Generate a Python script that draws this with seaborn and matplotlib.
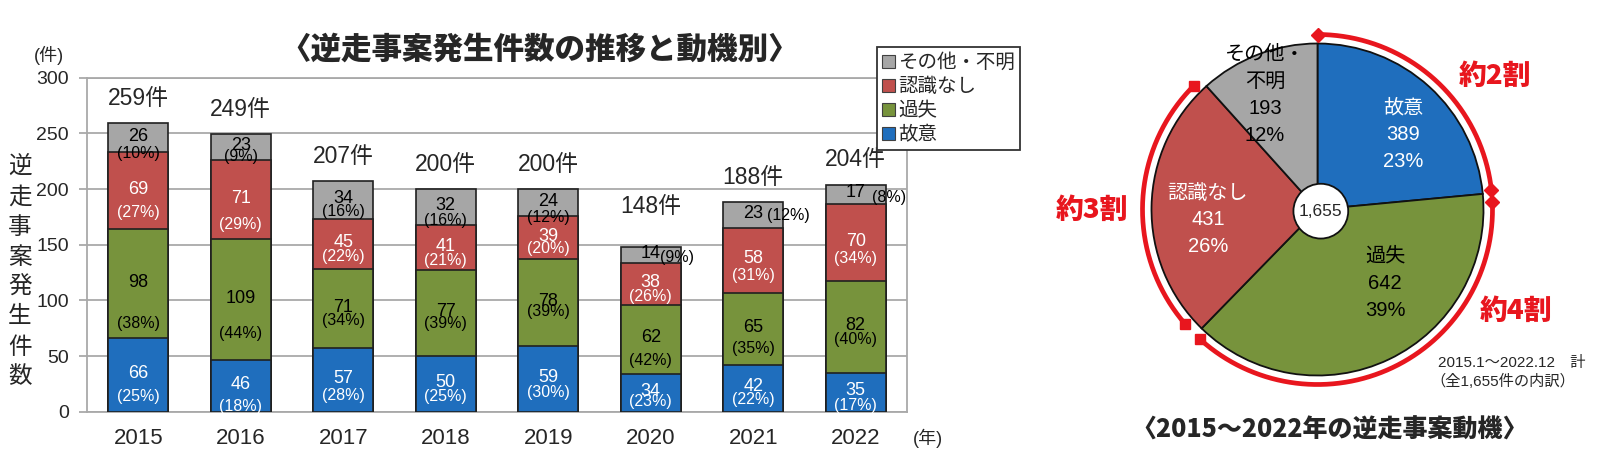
import numpy as np
import matplotlib
matplotlib.use("Agg")
import matplotlib.pyplot as plt
import seaborn as sns
from matplotlib import font_manager
from matplotlib.patches import Patch, Circle
from matplotlib.font_manager import FontProperties

# ---------------- data ----------------
years = ["2015", "2016", "2017", "2018", "2019", "2020", "2021", "2022"]
intentional = [66, 46, 57, 50, 59, 34, 42, 35]          # 故意
negligence = [98, 109, 71, 77, 78, 62, 65, 82]          # 過失
unaware = [69, 71, 45, 41, 39, 38, 58, 70]              # 認識なし
other = [26, 23, 34, 32, 24, 14, 23, 17]                # その他・不明
pct_intentional = [25, 18, 28, 25, 30, 23, 22, 17]
pct_negligence = [38, 44, 34, 39, 39, 42, 35, 40]
pct_unaware = [27, 29, 22, 21, 20, 26, 31, 34]
pct_other = [10, 9, 16, 16, 12, 9, 12, 8]
totals = [259, 249, 207, 200, 200, 148, 188, 204]
legend_labels = ["その他・不明", "認識なし", "過失", "故意"]

pie_names = [["故意"], ["過失"], ["認識なし"], ["その他・", "不明"]]
pie_values = [389, 642, 431, 193]
pie_pcts = [23, 39, 26, 12]
pie_total_label = "1,655"
arc_labels = ["約2割", "約4割", "約3割"]

title_left = "〈逆走事案発生件数の推移と動機別〉"
title_right = "〈2015～2022年の逆走事案動機〉"
note_lines = ["2015.1～2022.12　計", "（全1,655件の内訳）"]
ylabel_chars = "逆走事案発生件数"

# ---------------- styles ----------------
BLUE = "#1F6EBD"
GREEN = "#77933C"
RED = "#C0504D"
GREY = "#A6A6A6"
EDGE = "#202020"
ARC_RED = "#E8161E"
GRID = "#A9A9A9"

sns.set_style("white")
CJK = "Noto Sans CJK JP"
LAT = "Liberation Sans"
plt.rcParams["font.family"] = [LAT, CJK, "DejaVu Sans"]
names = {f.name for f in font_manager.fontManager.ttflist}
NARROW = "Liberation Sans Narrow" if "Liberation Sans Narrow" in names else LAT
pct_size = 13 if NARROW != LAT else 11.5

W, H = 1600, 476
fig = plt.figure(figsize=(W / 100, H / 100), dpi=100)


def fx(x):
    return x / W


def fy(y):
    return 1 - y / H


PT = 0.72  # px -> pt

# ---------------- bar chart ----------------
ax = fig.add_axes([fx(87), fy(411.7), fx(907) - fx(87), fy(77.7) - fy(411.7)])
layers = [
    (intentional, pct_intentional, BLUE, "white"),
    (negligence, pct_negligence, GREEN, "black"),
    (unaware, pct_unaware, RED, "white"),
    (other, pct_other, GREY, "black"),
]
cum = np.cumsum(np.array([l[0] for l in layers]), axis=0)
for li in range(3, -1, -1):
    sns.barplot(x=years, y=cum[li], order=years, color=layers[li][2], saturation=1,
                width=0.59, edgecolor=EDGE, linewidth=1.2, errorbar=None, ax=ax, zorder=3)

ax.set_xlim(-0.5, 7.5)
ax.set_ylim(0, 300)
ax.set_yticks(range(0, 301, 50))
ax.set_xlabel("")
ax.set_ylabel("")
ax.yaxis.grid(True, color=GRID, linewidth=1.3)
ax.xaxis.grid(False)
ax.set_axisbelow(True)
for s in ax.spines.values():
    s.set_color(GRID)
    s.set_linewidth(1.3)
ax.set_xticks(np.arange(-0.5, 8, 1), minor=True)
ax.tick_params(axis="x", which="major", length=0, pad=12, labelsize=16)
ax.tick_params(axis="x", which="minor", length=7, width=1.3, color=GRID, direction="out")
ax.tick_params(axis="y", which="major", length=6, width=1.3, color=GRID, direction="out",
               pad=7, labelsize=14, left=True)

# per-label layout (pixel gaps between value and percentage lines)
pct_gap = {
    (0, 0): 23, (0, 1): 41, (0, 2): 23, (0, 3): 17,
    (1, 0): 22, (1, 1): 35, (1, 2): 26, (1, 3): 11,
    (2, 0): 17, (2, 1): 13, (2, 2): 14, (2, 3): 13,
    (3, 0): 14, (3, 1): 12, (3, 2): 14, (3, 3): 15,
    (4, 0): 15, (4, 1): 10, (4, 2): 12, (4, 3): 16,
    (5, 0): 10, (5, 1): 23, (5, 2): 14,
    (6, 0): 13, (6, 1): 21, (6, 2): 17,
    (7, 0): 15, (7, 1): 14, (7, 2): 17,
}
# single-line labels: (pct left offset px, pct downward offset px)
inline = {(5, 3): (9, 4), (6, 3): (14, 2), (7, 3): (16, 5)}

for li, (vals, pcts, col, tcol) in enumerate(layers):
    for i in range(len(years)):
        base = cum[li][i] - vals[i]
        c = base + vals[i] / 2
        ax.annotate(str(vals[i]), (i, c), xytext=(0, 1), textcoords="offset points",
                    ha="center", va="center", fontsize=13, color=tcol, family=[LAT], zorder=6)
        if (i, li) in inline:
            dx, dy = inline[(i, li)]
            ax.annotate(f"({pcts[i]}%)", (i, c), xytext=(dx * PT, -dy * PT + 1),
                        textcoords="offset points", ha="left", va="center",
                        fontsize=pct_size, color=tcol, family=[NARROW], zorder=6,
                        annotation_clip=False)
        else:
            g = pct_gap.get((i, li), 14)
            ax.annotate(f"({pcts[i]}%)", (i, c), xytext=(0, -g * PT + 1),
                        textcoords="offset points", ha="center", va="center",
                        fontsize=pct_size, color=tcol, family=[NARROW], zorder=6,
                        annotation_clip=False)

total_offset = [25, 25, 25, 25, 25, 40, 25, 25]
for i, t in enumerate(totals):
    ax.annotate(f"{t}件", (i, t), xytext=(0, total_offset[i] * PT), textcoords="offset points",
                ha="center", va="center", fontsize=16.5, family=[LAT, CJK], zorder=6)

handles = [Patch(facecolor=c, edgecolor="#404040", linewidth=0.8)
           for c in [GREY, RED, GREEN, BLUE]]
leg = fig.legend(handles, legend_labels, loc="upper left",
                 bbox_to_anchor=(fx(877), fy(47)), bbox_transform=fig.transFigure,
                 prop=FontProperties(family=[CJK], size=14), frameon=True, fancybox=False,
                 borderpad=0.25, labelspacing=0.16, handlelength=0.65, handleheight=0.65,
                 handletextpad=0.2, borderaxespad=0)
leg.get_frame().set_edgecolor("#333333")
leg.get_frame().set_linewidth(1.3)
leg.get_frame().set_alpha(1)

fig.text(fx(540), fy(49), title_left, ha="center", va="center", fontsize=22,
         fontweight=900, family=[CJK])
fig.text(fx(49), fy(55), "(件)", ha="center", va="center", fontsize=13, family=[LAT, CJK])
fig.text(fx(928), fy(438), "(年)", ha="center", va="center", fontsize=13, family=[LAT, CJK])
for k, ch in enumerate(ylabel_chars):
    fig.text(fx(20), fy(167 + 30 * k), ch, ha="center", va="center", fontsize=17, family=[CJK])

# ---------------- pie chart ----------------
R_PX = 166.0
cxp, cyp = 1317.5, 209.5
xl, yl = 1.3, 1.2
ax2 = fig.add_axes([fx(cxp - xl * R_PX), fy(cyp + yl * R_PX), 2 * xl * R_PX / W, 2 * yl * R_PX / H])
pie_colors = [BLUE, GREEN, RED, GREY]
ax2.pie(pie_values, colors=pie_colors, startangle=90, counterclock=False, radius=1,
        wedgeprops=dict(edgecolor="#111111", linewidth=1.3))
ax2.set_aspect("auto")
ax2.set_xlim(-xl, xl)
ax2.set_ylim(-yl, yl)
ax2.axis("off")

pie_text_colors = ["white", "black", "white", "black"]
pie_label_xy = [(0.515, 0.449), (0.407, -0.443), (-0.66, -0.063), (-0.316, 0.69)]
line_step = 27 / R_PX
for j in range(len(pie_values)):
    lines = pie_names[j] + [str(pie_values[j]), f"{pie_pcts[j]}%"]
    x0, y0 = pie_label_xy[j]
    n = len(lines)
    for k, ln in enumerate(lines):
        ax2.text(x0, y0 + ((n - 1) / 2 - k) * line_step, ln, ha="center", va="center",
                 fontsize=14.5, color=pie_text_colors[j], family=[LAT, CJK], zorder=6)

ax2.add_patch(Circle((0.02, -0.01), 0.165, facecolor="white", edgecolor="#111111",
                     linewidth=1.3, zorder=5))
ax2.text(0.02, -0.01, pie_total_label, ha="center", va="center", fontsize=12.5, zorder=6)

# red arcs around slices (angles from cumulative data)
bounds = 90 - 360 * np.concatenate([[0], np.cumsum(pie_values)]) / np.sum(pie_values)
insets = [(0, 1), (3, 2), (5, 3)]
markers = [("D", "D"), ("D", "s"), ("s", "s")]
R_ARC = 175 / R_PX
for j in range(3):
    a0 = bounds[j] - insets[j][0]
    a1 = bounds[j + 1] + insets[j][1]
    th = np.radians(np.linspace(a0, a1, 200))
    ax2.plot(R_ARC * np.cos(th), R_ARC * np.sin(th), color=ARC_RED, lw=3.4,
             solid_capstyle="butt", clip_on=False)
    for a, m in zip((a0, a1), markers[j]):
        ax2.plot(R_ARC * np.cos(np.radians(a)), R_ARC * np.sin(np.radians(a)), marker=m,
                 markersize=7.5 if m == "D" else 6.5, color=ARC_RED, clip_on=False)

arc_label_px = [(1495, 76), (1516, 311), (1092, 210)]
for lab, (px_, py_) in zip(arc_labels, arc_label_px):
    fig.text(fx(px_), fy(py_), lab, ha="center", va="center", fontsize=20,
             fontweight=900, color=ARC_RED, family=[CJK])

fig.text(fx(1438), fy(363), note_lines[0], ha="left", va="center", fontsize=11,
         family=[LAT, CJK])
fig.text(fx(1430), fy(381), note_lines[1], ha="left", va="center", fontsize=11,
         family=[LAT, CJK])
fig.text(fx(1330), fy(430), title_right, ha="center", va="center", fontsize=18,
         fontweight=900, family=[CJK])

fig.savefig("out.png", dpi=100)
